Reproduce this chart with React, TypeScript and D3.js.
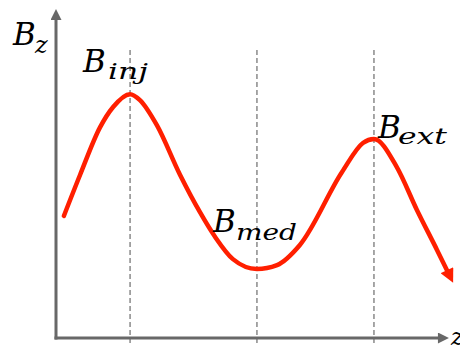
import React from 'react';
import * as d3 from 'd3';

// curve: position along z and field value B
const curveZ = [0.2, 0.61, 1.12, 1.45, 1.88, 2.13, 2.56, 3.15, 3.65, 4.04, 4.49, 5.1, 5.61, 6.19, 7.26, 7.79, 8.07, 8.65, 9.16, 9.67, 9.97];
const curveB = [3.7, 4.94, 6.39, 7.0, 7.39, 7.21, 6.45, 4.94, 3.82, 3.06, 2.39, 2.09, 2.21, 2.82, 5.03, 5.91, 6.03, 5.18, 3.88, 2.67, 1.94];

// marked positions (dashed guides) and their labels
const markZ = [1.88, 5.1, 8.07];
const markLabels = ['inj', 'med', 'ext'];

const width = 460;
const height = 349;

const App = () => {
    const x = d3.scaleLinear().domain([0, 10]).range([56, 450]);
    const y = d3.scaleLinear().domain([0, 10]).range([338, 8]);

    const points: [number, number][] = curveZ.map((z, i) => [x(z), y(curveB[i])]);
    const line = d3.line().curve(d3.curveMonotoneX);

    const font = '"DejaVu Serif", serif';
    const axisColor = '#686868';
    const red = '#ff1f00';

    // label placement next to each guide (px offsets from the guide)
    const labelPos = [
        { dx: -47, by: 72, sx: -22, sy: 79, len: 40 },
        { dx: -44, by: 232, sx: -21, sy: 240, len: 61 },
        { dx: 4, by: 138, sx: 24, sy: 144, len: 49 }
    ];

    return (
        <svg width={width} height={height} style={{ position: 'absolute', left: 0, top: 0, background: '#fff' }}>
            <defs>
                <marker id="axisHead" markerUnits="userSpaceOnUse" viewBox="0 0 10 10" refX="2" refY="5"
                    markerWidth="12" markerHeight="11" orient="auto">
                    <path d="M0,0 L10,5 L0,10 Z" fill={axisColor} />
                </marker>
                <marker id="curveHead" markerUnits="userSpaceOnUse" viewBox="0 0 10 10" refX="3" refY="5"
                    markerWidth="15" markerHeight="14" orient="auto">
                    <path d="M0,0 L10,5 L0,10 Z" fill={red} />
                </marker>
            </defs>

            {/* dashed guides */}
            {markZ.map((z, i) => (
                <line key={i} x1={x(z)} x2={x(z)} y1={y(8.73)} y2={y(-0.15)}
                    stroke="#8a8a8a" strokeWidth={1.5} strokeDasharray="5,3" />
            ))}

            {/* axes */}
            <line x1={x(0)} x2={x(0)} y1={y(0) + 1.5} y2={y(9.7)} stroke={axisColor} strokeWidth={3} markerEnd="url(#axisHead)" />
            <line x1={x(0) - 1.5} x2={x(9.75)} y1={y(0)} y2={y(0)} stroke={axisColor} strokeWidth={3} markerEnd="url(#axisHead)" />

            {/* curve */}
            <path d={line(points) || ''} fill="none" stroke={red} strokeWidth={4.5}
                strokeLinecap="round" markerEnd="url(#curveHead)" />

            {/* axis labels */}
            <text x={13} y={45} fontFamily={font} fontStyle="italic" fontSize={31} fill="#000">B</text>
            <text x={35} y={53} fontFamily={font} fontStyle="italic" fontSize={24} fill="#000">z</text>
            <text x={451} y={345} fontFamily={font} fontStyle="italic" fontSize={24} fill="#000">z</text>

            {/* guide labels */}
            {markZ.map((z, i) => (
                <g key={i}>
                    <text x={x(z) + labelPos[i].dx} y={labelPos[i].by} fontFamily={font} fontStyle="italic"
                        fontSize={31} fill="#000">B</text>
                    <text x={x(z) + labelPos[i].sx} y={labelPos[i].sy} fontFamily={font}
                        fontStyle="italic" fontSize={23} fill="#000" textLength={labelPos[i].len}
                        lengthAdjust="spacingAndGlyphs">{markLabels[i]}</text>
                </g>
            ))}
        </svg>
    );
};

export default App;
